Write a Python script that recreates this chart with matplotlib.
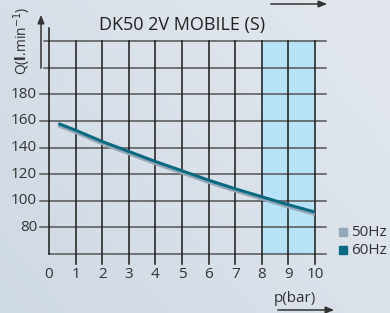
import matplotlib.pyplot as plt
import numpy as np

plt.rcParams['font.family'] = ['Open Sans', 'DejaVu Sans']

# data
p_60 = [0.35, 1, 2, 3, 4, 5, 6, 7, 8, 9, 10]
q_60 = [158, 153, 144.5, 137, 129.5, 122.5, 115.5, 109, 103, 97, 91.5]
p_50 = [0.35, 1, 2, 3, 4, 5, 6, 7, 8, 9, 10]
q_50 = [156.5, 151.5, 143, 135.5, 128, 121, 114, 107.5, 101.5, 95.5, 90]
x_ticks = list(range(0, 11))
y_ticks = [80, 100, 120, 140, 160, 180]
y_grid = [60, 80, 100, 120, 140, 160, 180, 200, 220]
legend_labels = ["50Hz", "60Hz"]
c50 = "#94a7b8"
c60 = "#0b6a80"
txt = "#333333"

fig = plt.figure(figsize=(3.9, 3.13), dpi=100)

# background gradient
bg = fig.add_axes([0, 0, 1, 1])
gx, gy = np.meshgrid(np.linspace(0, 1, 200), np.linspace(0, 1, 200))
grad = 0.6 * gx + 0.4 * gy
bg.imshow(grad, cmap=plt.matplotlib.colors.LinearSegmentedColormap.from_list(
    "bg", ["#cfd9e4", "#e3e8ee"]), aspect="auto", origin="lower", extent=[0, 1, 0, 1])
bg.set_xlim(0, 1)
bg.set_ylim(0, 1)
bg.axis("off")

W, H = 390, 313
x0, x1 = 49, 315
ytop, ybot = 41, 254
ax = fig.add_axes([x0 / W, (H - ybot) / H, (x1 - x0) / W, (ybot - ytop) / H])
ax.set_xlim(0, 10)
ax.set_ylim(60, 220)
ax.patch.set_alpha(0)
for s in ax.spines.values():
    s.set_visible(False)
ax.set_xticks([])
ax.set_yticks([])

ax.axvspan(8, 10, color="#b8e2f6", zorder=0)

# grid
for y in y_grid:
    start = -0.34 if y in y_ticks else (-0.19 if y > 180 else 0)
    ax.plot([start, 10.4], [y, y], color="#555555", lw=1.1, clip_on=False, zorder=1)
for x in x_ticks[1:]:
    ax.plot([x, x], [52.5, 220], color="#1a1a1a", lw=1.1, clip_on=False, zorder=1)
ax.plot([0, 0], [60, 230], color="#1a1a1a", lw=1.1, clip_on=False, zorder=1)

# curves
ax.plot(p_50, q_50, color=c50, lw=2.6, solid_capstyle="butt", zorder=3)
ax.plot(p_60, q_60, color=c60, lw=2.2, solid_capstyle="butt", zorder=4)

for x in x_ticks:
    ax.text(x, 44.5, str(x), ha="center", va="center", fontsize=11, color=txt, clip_on=False)
for y in y_ticks:
    ax.text(-0.45, y, str(y), ha="right", va="center", fontsize=11, color=txt, clip_on=False)

fig.text(182 / W, 1 - 25 / H, "DK50 2V MOBILE (S)", ha="center", va="center",
         fontsize=13, color="#222222")
fig.text(22 / W, 1 - 41 / H, r"Q($\mathbf{l}$.min$^{-1}$)", ha="center", va="center",
         rotation=90, fontsize=10, color=txt)
fig.text(295 / W, 1 - 299 / H, "p(bar)", ha="center", va="center", fontsize=11, color=txt)

# arrows
arr = dict(arrowstyle="-|>,head_length=0.5,head_width=0.2", color="#333333", lw=1.1)
bg.annotate("", xy=(41 / W, 1 - 12 / H), xytext=(41 / W, 1 - 71 / H),
            xycoords="axes fraction", arrowprops=arr)
bg.annotate("", xy=(330 / W, 1 - 4 / H), xytext=(268 / W, 1 - 4 / H),
            xycoords="axes fraction", arrowprops=arr)
bg.annotate("", xy=(337 / W, 1 - 310 / H), xytext=(275 / W, 1 - 310 / H),
            xycoords="axes fraction", arrowprops=arr)

# legend
for i, (lab, c) in enumerate(zip(legend_labels, [c50, c60])):
    yy = 1 - (232 + 18 * i) / H
    bg.add_patch(plt.Rectangle((339 / W, yy - 4 / H), 8 / W, 8 / H, color=c))
    bg.text(351 / W, yy, lab, ha="left", va="center", fontsize=11, color=txt)

fig.savefig("out.png", dpi=100)
